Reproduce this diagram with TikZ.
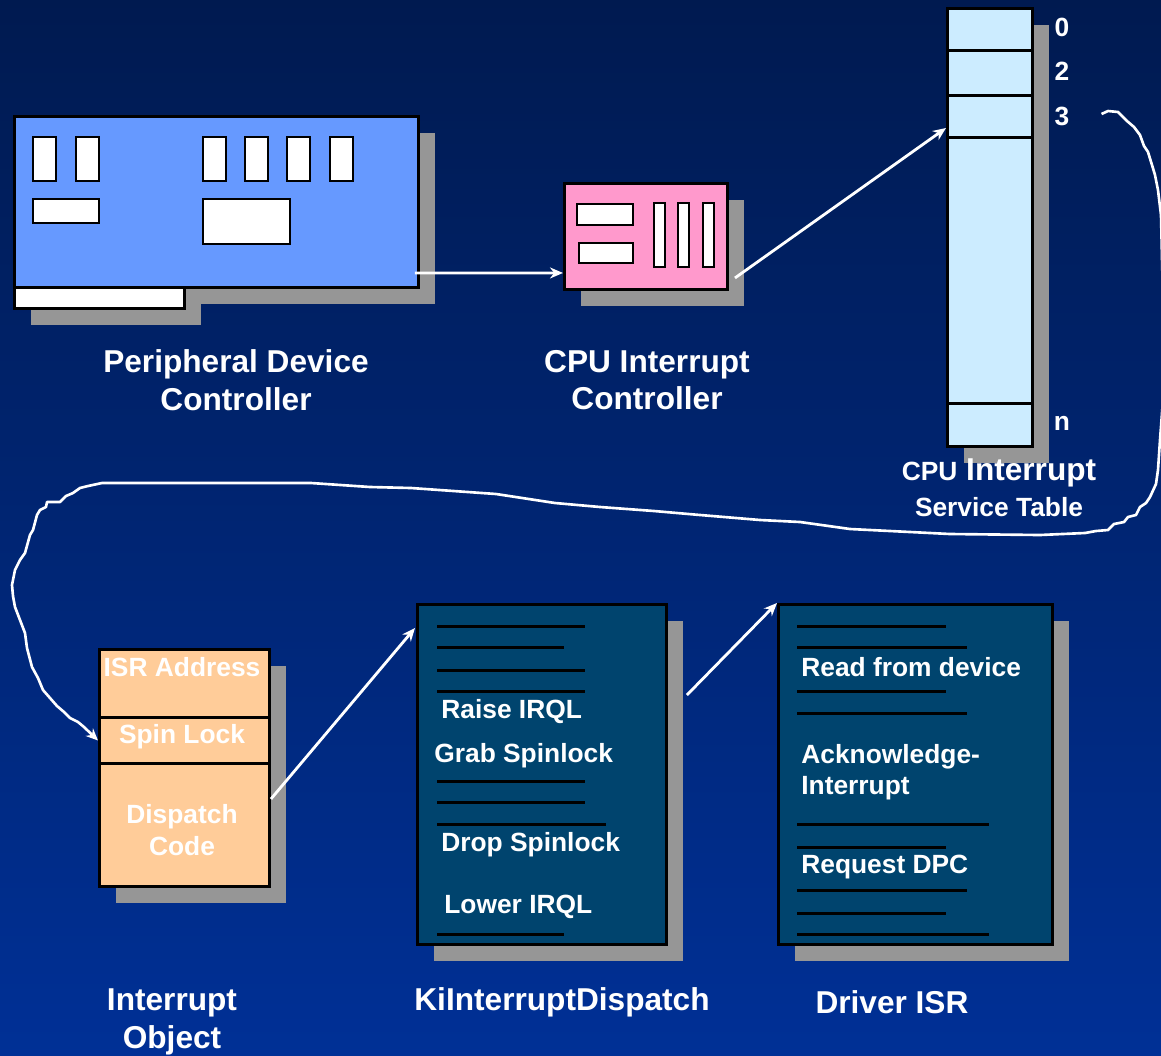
\documentclass[tikz,border=0pt]{standalone}
\usepackage{fontspec}
\setmainfont{Liberation Sans}
\usetikzlibrary{arrows.meta, positioning, calc, shadows}
\usepackage{xcolor}

\definecolor{bgtop}{HTML}{001A50}
\definecolor{bgbottom}{HTML}{003096}
\definecolor{shadowgray}{HTML}{969696}
\definecolor{cardblue}{HTML}{6699FF}
\definecolor{chippink}{HTML}{FF99CC}
\definecolor{tablecyan}{HTML}{CCECFF}
\definecolor{objorange}{HTML}{FFCC99}
\definecolor{codeblue}{HTML}{00446E}

\begin{document}
\begin{tikzpicture}[
    x=0.02cm, y=-0.02cm, % one unit per pixel, y downwards
    box/.style={rectangle, draw=black, line width=1.7pt, anchor=north west, inner sep=0pt,
        drop shadow={shadow xshift=0.33cm, shadow yshift=-0.33cm, fill=shadowgray, opacity=1}},
    chip/.style={draw=black, fill=white, line width=1.4pt},
    codeline/.style={black, line width=1.7pt},
    caption/.style={text=white, align=center, font=\fontsize{18}{21.5}\selectfont\bfseries},
    intext/.style={text=white, anchor=west, align=left, inner sep=0pt, font=\fontsize{15}{18}\selectfont\bfseries},
    idx/.style={text=white, font=\fontsize{15}{18}\selectfont\bfseries},
    arrow/.style={-{Stealth[length=2.6mm, width=2.2mm]}, white, line width=1.6pt},
    loopline/.style={-{Stealth[length=2.4mm, width=2.1mm]}, white, line width=1.5pt, line join=round}
]
    \useasboundingbox (0,0) rectangle (1161,1056);
    \shade[top color=bgtop, bottom color=bgbottom] (0,0) rectangle (1161,1056);

    % Top row
    \node[box, fill=cardblue, minimum width=8.08cm, minimum height=3.42cm] (pdc) at (13,115) {};
    \node[box, fill=white, minimum width=3.4cm, minimum height=0.42cm] (pdcedge) at (13,286) {};
    \foreach \x in {33,76,203,245,287,330}
        \draw[chip] (\x,137) rectangle ++(23,44);
    \draw[chip] (33,199) rectangle (99,223);
    \draw[chip] (203,199) rectangle (290,244);

    \node[box, fill=chippink, minimum width=3.26cm, minimum height=2.12cm] (cic) at (563,182) {};
    \draw[chip] (577,204) rectangle (633,225);
    \draw[chip] (579,243) rectangle (633,263);
    \foreach \x in {654,678,703}
        \draw[chip] (\x,203) rectangle ++(11,64);

    \node[box, fill=tablecyan, minimum width=1.7cm, minimum height=8.76cm] (ist) at (946,7) {};
    \foreach \r in {50,95,137,403}
        \draw[codeline] (ist.west |- 0,\r) -- (ist.east |- 0,\r);
    \node[idx] (lbl0) at (1062,27) {0};
    \node[idx] (lbl2) at (1062,71) {2};
    \node[idx] (lbl3) at (1062,116) {3};
    \node[idx] (lbln) at (1062,423) {n};

    \node[caption] (pdclabel) at (236,380) {Peripheral Device\\Controller};
    \node[caption] (ciclabel) at (647,380) {CPU Interrupt\\Controller};
    \node[caption] (istlabel) at (999,473) {{\fontsize{15}{18}\selectfont CPU} Interrupt};
    \node[caption, font=\fontsize{15}{18}\selectfont\bfseries] (istlabelb) at (999,507) {Service Table};

    % Bottom row - interrupt object cells
    \node[box, fill=objorange, minimum width=3.4cm, minimum height=1.36cm] (isr) at (98,648) {};
    \node[box, fill=objorange, minimum width=3.4cm, minimum height=0.92cm] (spin) at (98,716) {};
    \node[box, fill=objorange, minimum width=3.4cm, minimum height=2.46cm] (dispatch) at (98,762) {};
    \node[idx] (isrtext) at (182,667) {ISR Address};
    \node[idx] (spintext) at (182,737) {Spin Lock};
    \node[idx, align=center] (dispatchtext) at (182,830) {Dispatch\\Code};

    % dispatcher code listing
    \node[box, fill=codeblue, minimum width=4.98cm, minimum height=6.8cm] (kid) at (416,603) {};
    \foreach \y/\e in {626/585, 647/564, 670/585, 691/585, 781/585, 802/585, 824/606, 934/564}
        \draw[codeline] (437,\y) -- (\e,\y);
    \node[intext] (raise) at (441,712) {Raise IRQL};
    \node[intext] (grab) at (434,756) {Grab Spinlock};
    \node[intext] (drop) at (441,845) {Drop Spinlock};
    \node[intext] (lower) at (444,907) {Lower IRQL};

    % driver routine listing
    \node[box, fill=codeblue, minimum width=5.48cm, minimum height=6.8cm] (dsr) at (777,603) {};
    \foreach \y/\e in {626/946, 647/967, 691/946, 713/967, 824/989, 847/946, 890/967, 913/946, 934/989}
        \draw[codeline] (797,\y) -- (\e,\y);
    \node[intext] (readdev) at (801,667) {Read from device};
    \node[intext] (ackint) at (801,772) {Acknowledge-\\Interrupt};
    \node[intext] (reqdpc) at (801,867) {Request DPC};

    \node[caption] (iolabel) at (172,1022) {Interrupt\\Object};
    \node[caption] (kidlabel) at (562,1002) {KiInterruptDispatch};
    \node[caption] (dsrlabel) at (892,1002) {Driver ISR};

    % Straight arrows
    \draw[arrow] ($(pdc.south east)+(-5,-16)$) -- ($(cic.south west)+(0,-18)$);
    \draw[arrow] ($(cic.south east)+(6,-13)$) -- ($(ist.north west)+(0,121)$);
    \draw[arrow] ($(dispatch.east)+(0,-26)$) -- ($(kid.north west)+(-1,25)$);
    \draw[arrow] ($(kid.north east)+(19,92)$) -- (dsr.north west);

    % Freehand loop from vector 3 round to the spin lock
    \coordinate (loopstart) at ($(lbl3.east)+(26,-2)$);
    \draw[loopline] (loopstart) -- (1108,111) -- (1118,112) -- (1127,121) -- (1134,127)
        -- (1140,135) -- (1144,146) -- (1148,152) -- (1152,165) -- (1155,175) -- (1158,190)
        -- (1161,215) -- (1163,300) -- (1163,400) -- (1160,440) -- (1158,470) -- (1156,484)
        -- (1150,497) -- (1146,503) -- (1140,507) -- (1136,515) -- (1128,517) -- (1124,522)
        -- (1114,524) -- (1108,530) -- (1096,531) -- (1085,533) -- (1040,535) -- (950,534)
        -- (890,531) -- (850,529) -- (800,522) -- (760,520) -- (700,515) -- (654,511)
        -- (600,507) -- (555,503) -- (496,494) -- (411,488) -- (370,487) -- (311,483)
        -- (102,483) -- (88,486) -- (80,488) -- (73,493) -- (66,496) -- (60,502)
        -- (47,502) -- (46,507) -- (40,510) -- (37,515) -- (33,530) -- (30,535)
        -- (25,553) -- (20,560) -- (15,570) -- (12,585) -- (13,596) -- (15,607)
        -- (20,620) -- (25,633) -- (27,648) -- (32,667) -- (38,678) -- (43,690)
        -- (50,698) -- (57,706) -- (64,712) -- (70,718) -- (78,722) -- (84,727) -- (spin.west);
\end{tikzpicture}
\end{document}
